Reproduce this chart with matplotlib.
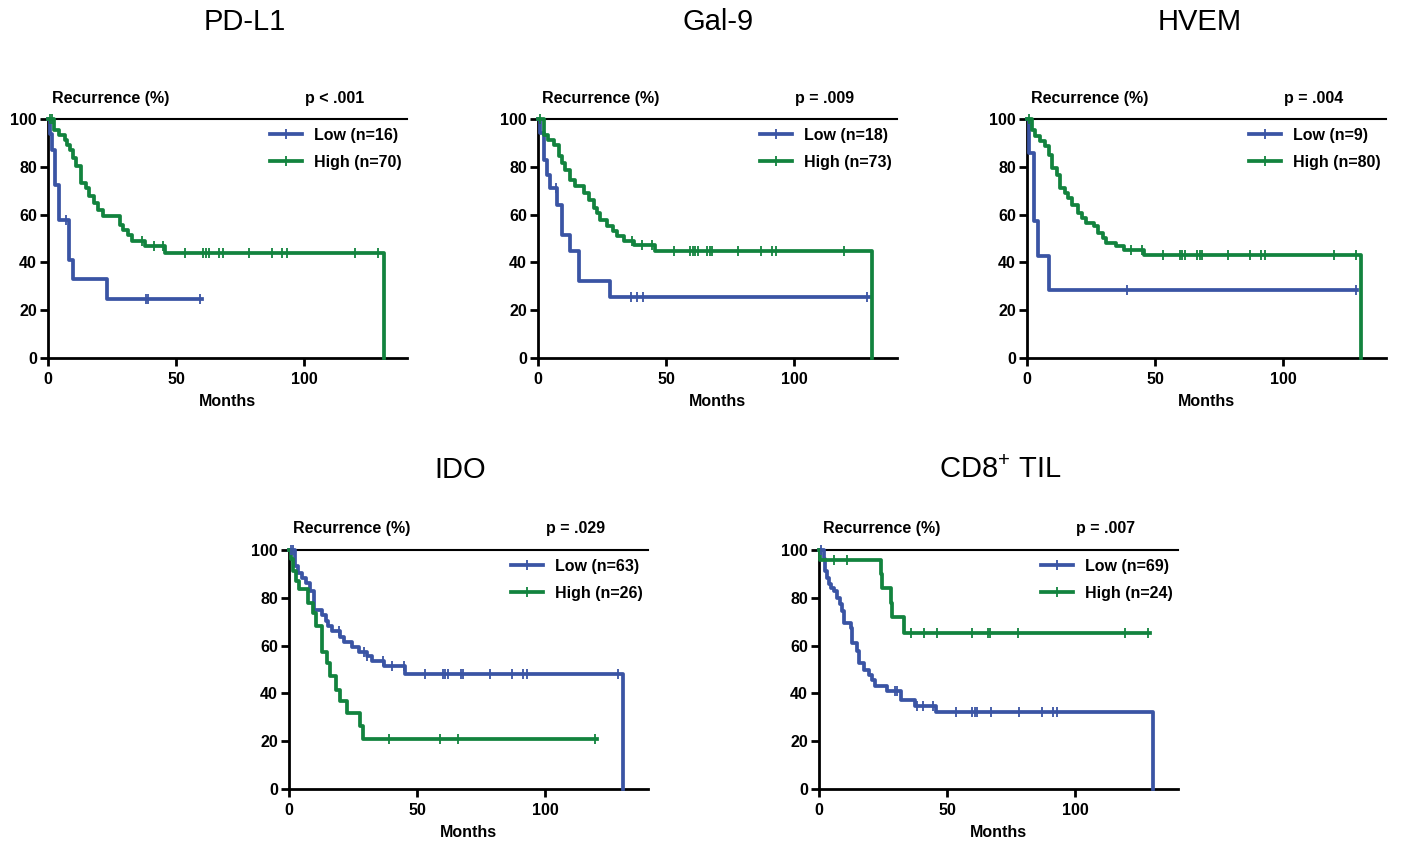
import numpy as np
import matplotlib
matplotlib.use("Agg")
import matplotlib.pyplot as plt
from matplotlib.lines import Line2D

plt.rcParams["font.family"] = ["Liberation Sans", "DejaVu Sans"]

BLUE = "#3a54a4"
GREEN = "#12833e"

# ---- data (months, % recurrence-free) ----
# PD-L1
pdl1_low_t = [0, 0.65, 1.7, 2.6, 4.1, 8.0, 9.8, 23.0, 60.0]
pdl1_low_s = [100, 93.8, 87.0, 72.2, 57.9, 41.0, 33.0, 24.8, 24.8]
pdl1_low_c = [6.9, 38.4, 39.0, 59.3]
pdl1_high_t = [0, 2.4, 4.1, 6.7, 7.6, 8.6, 9.6, 10.9, 13.0, 14.8, 15.8, 18.1, 19.6,
               21.3, 27.9, 29.2, 31.2, 32.9, 38.0, 45.8, 130.9]
pdl1_high_s = [100, 95.5, 93.4, 91.3, 89.3, 86.9, 83.7, 80.2, 73.2, 71.1, 67.6, 64.9, 62.1,
               59.3, 55.8, 53.7, 51.6, 48.8, 46.7, 43.9, 0]
pdl1_high_c = [0.7, 1.4, 36.5, 41.4, 45.0, 53.4, 60.6, 61.5, 62.6, 66.5, 68.2, 78.3,
               87.4, 91.4, 93.3, 119.8, 128.7]

# Gal-9
gal9_low_t = [0, 0.65, 2.5, 3.5, 4.6, 7.4, 9.4, 12.6, 15.9, 28.0, 128.9]
gal9_low_s = [100, 94.1, 83.0, 76.7, 71.1, 64.2, 51.6, 44.6, 32.1, 25.5, 25.5]
gal9_low_c = [7.0, 36.1, 38.7, 40.9, 128.4]
gal9_high_t = [0, 2.2, 3.8, 6.1, 8.1, 9.4, 10.7, 12.6, 14.6, 17.8, 19.8, 21.7, 23.0,
               24.3, 27.0, 29.3, 30.9, 33.5, 37.4, 45.8, 130.2]
gal9_high_s = [100, 93.4, 91.3, 89.3, 84.4, 81.6, 78.8, 74.6, 71.8, 69.0, 66.2, 62.8, 60.7,
               57.9, 55.1, 53.0, 50.9, 48.8, 47.1, 44.6, 0]
gal9_high_c = [0.9, 36.5, 40.6, 44.5, 53.1, 59.1, 60.3, 61.4, 62.3, 66.1, 67.2, 68.0,
               78.0, 87.1, 91.3, 93.0, 119.3]

# HVEM
hvem_low_t = [0, 0.65, 2.85, 4.2, 8.5, 128.8]
hvem_low_s = [100, 85.8, 57.2, 42.5, 28.6, 28.6]
hvem_low_c = [39.1, 128.4]
hvem_high_t = [0, 2.0, 3.3, 5.2, 7.2, 8.5, 9.9, 11.8, 13.0, 14.9, 15.8, 17.5, 19.8, 21.5,
               23.2, 26.1, 27.6, 29.7, 31.0, 34.6, 37.8, 45.6, 130.4]
hvem_high_s = [100, 95.5, 92.7, 90.7, 88.6, 85.1, 79.5, 76.7, 71.1, 69.0, 66.9, 64.2, 60.7,
               58.6, 56.5, 55.1, 52.3, 50.2, 48.1, 46.7, 45.3, 43.0, 0]
hvem_high_c = [0.9, 40.4, 45.0, 53.1, 59.5, 60.5, 61.5, 66.4, 67.3, 68.3, 78.2, 87.1,
               91.4, 93.0, 119.8, 128.4]

# IDO
ido_low_t = [0, 2.3, 3.7, 5.0, 6.7, 8.2, 9.8, 12.8, 14.5, 15.4, 16.7, 19.7, 21.3, 24.5,
             27.2, 30.4, 32.4, 37.2, 45.4, 130.3]
ido_low_s = [100, 93.3, 90.5, 88.4, 86.0, 82.8, 75.1, 73.0, 70.3, 68.2, 66.1, 63.5, 61.5,
             59.4, 57.3, 55.6, 53.5, 51.4, 48.2, 0]
ido_low_c = [0.8, 1.4, 19.6, 29.2, 30.4, 36.5, 40.3, 45.0, 53.2, 60.2, 61.0, 62.1, 67.1,
             68.0, 78.2, 87.1, 91.1, 92.8, 128.3]
ido_high_t = [0, 0.65, 1.4, 2.7, 4.0, 7.6, 9.5, 10.6, 12.8, 15.0, 15.8, 18.4, 20.0, 22.8,
              27.5, 28.9, 120.1]
ido_high_s = [100, 96.1, 91.2, 87.0, 83.5, 77.9, 73.7, 68.2, 57.5, 52.8, 47.2, 41.6, 36.7,
              31.6, 26.3, 20.9, 20.9]
ido_high_c = [38.9, 58.9, 65.9, 119.5]

# CD8+ TIL
cd8_low_t = [0, 1.8, 2.2, 3.1, 3.8, 4.7, 5.7, 7.0, 8.0, 9.0, 9.6, 12.3, 12.9, 14.9, 15.5,
             17.5, 19.4, 20.7, 22.0, 26.6, 31.8, 37.3, 45.5, 130.3]
cd8_low_s = [100, 96.1, 91.2, 88.4, 85.6, 84.2, 82.8, 80.0, 77.2, 74.4, 69.6, 67.5, 61.2,
             57.7, 52.8, 50.0, 47.9, 45.8, 43.0, 40.9, 37.4, 34.6, 32.1, 0]
cd8_low_c = [0.8, 29.5, 30.6, 38.1, 40.5, 44.6, 53.4, 59.6, 60.7, 61.6, 67.1, 78.0,
             87.0, 91.4, 93.0]
cd8_high_t = [0, 0.5, 24.0, 24.6, 27.9, 28.6, 33.1, 128.9]
cd8_high_s = [100, 95.7, 89.8, 83.9, 77.9, 72.1, 65.1, 65.1]
cd8_high_c = [5.7, 11.0, 35.7, 40.9, 45.9, 59.8, 66.0, 66.8, 77.7, 119.2, 128.3]

panels = [
    ("PD-L1", "p < .001", (48, 119), (245, 22), ["Low (n=16)", "High (n=70)"],
     (pdl1_low_t, pdl1_low_s, pdl1_low_c), (pdl1_high_t, pdl1_high_s, pdl1_high_c)),
    ("Gal-9", "p = .009", (538, 119), (718, 22), ["Low (n=18)", "High (n=73)"],
     (gal9_low_t, gal9_low_s, gal9_low_c), (gal9_high_t, gal9_high_s, gal9_high_c)),
    ("HVEM", "p = .004", (1027, 119), (1200, 22), ["Low (n=9)", "High (n=80)"],
     (hvem_low_t, hvem_low_s, hvem_low_c), (hvem_high_t, hvem_high_s, hvem_high_c)),
    ("IDO", "p = .029", (289, 550), (460, 470), ["Low (n=63)", "High (n=26)"],
     (ido_low_t, ido_low_s, ido_low_c), (ido_high_t, ido_high_s, ido_high_c)),
    (r"CD8$^{\mathregular{+}}$ TIL", "p = .007", (819, 550), (1000, 470),
     ["Low (n=69)", "High (n=24)"],
     (cd8_low_t, cd8_low_s, cd8_low_c), (cd8_high_t, cd8_high_s, cd8_high_c)),
]

W, H = 1402, 841
AW, AH = 359, 239

fig = plt.figure(figsize=(W / 100, H / 100), dpi=100)


def draw_curve(ax, t, s, c, color):
    ax.step(t, s, where="post", color=color, lw=2.7, clip_on=False, zorder=3)
    t = np.asarray(t)
    s = np.asarray(s)
    idx = np.searchsorted(t, c, side="right") - 1
    ax.plot(c, s[idx], ls="none", marker="|", ms=7, mew=1.3, color=color,
            clip_on=False, zorder=4)


for title, ptext, (x0, y0), (tx, ty), labels, low, high in panels:
    ax = fig.add_axes([x0 / W, 1 - (y0 + AH) / H, AW / W, AH / H])
    draw_curve(ax, *low, BLUE)
    draw_curve(ax, *high, GREEN)

    ax.set_xlim(0, 140)
    ax.set_ylim(0, 100)
    ax.set_xticks([0, 50, 100])
    ax.set_yticks([0, 20, 40, 60, 80, 100])
    ax.spines["right"].set_visible(False)
    ax.spines["top"].set_linewidth(1.5)
    ax.spines["left"].set_linewidth(2)
    ax.spines["bottom"].set_linewidth(2)
    ax.tick_params(direction="out", length=6, width=2, labelsize=11.5)
    ax.tick_params(axis="x", pad=4)
    ax.tick_params(axis="y", pad=2)
    for lab in ax.get_xticklabels() + ax.get_yticklabels():
        lab.set_fontweight("bold")
    ax.set_xlabel("Months", fontsize=11.5, fontweight="bold", labelpad=5)

    ax.text(4 / AW, 1 + 21 / AH, "Recurrence (%)", transform=ax.transAxes,
            fontsize=11.5, fontweight="bold", va="center", ha="left")
    ax.text(257 / AW, 1 + 21 / AH, ptext, transform=ax.transAxes,
            fontsize=11.5, fontweight="bold", va="center", ha="left")

    handles = [Line2D([], [], color=BLUE, lw=2.7, marker="|", ms=7, mew=1.3),
               Line2D([], [], color=GREEN, lw=2.7, marker="|", ms=7, mew=1.3)]
    ax.legend(handles, labels, loc="upper left", bbox_to_anchor=(222 / AW, 0.962),
              frameon=False, borderpad=0, borderaxespad=0, handlelength=2.0,
              handletextpad=0.75, labelspacing=0.75, numpoints=1,
              prop={"size": 11.5, "weight": "bold"})

    fig.text(tx / W, 1 - ty / H, title, fontsize=21, ha="center", va="center")

fig.savefig("out.png", dpi=100)
